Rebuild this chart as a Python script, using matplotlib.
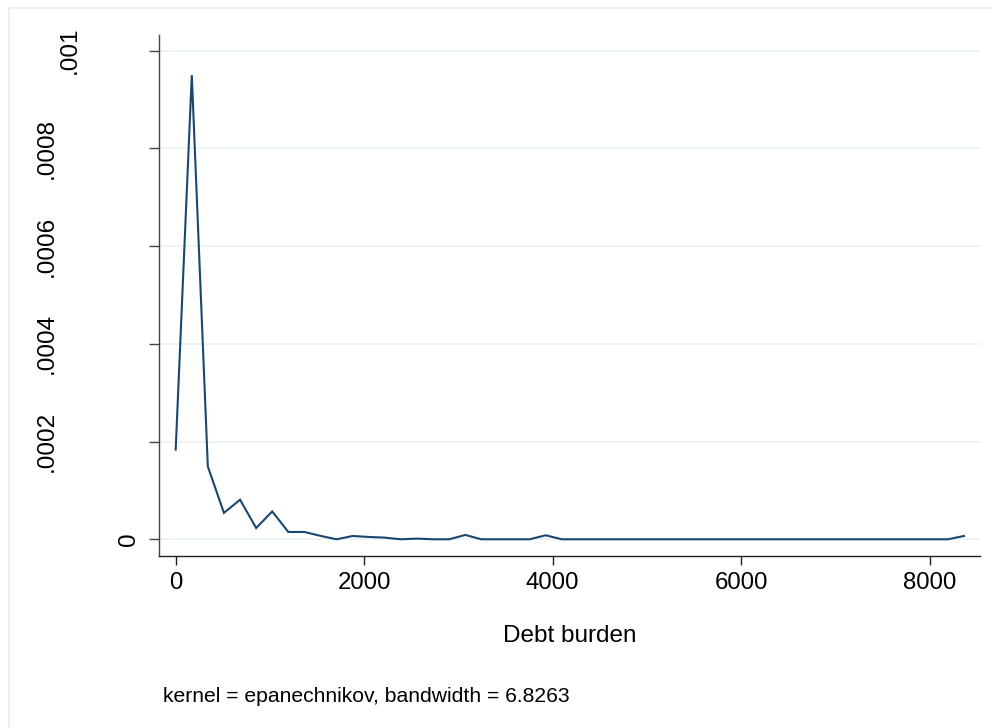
import matplotlib
matplotlib.use("Agg")
import matplotlib.pyplot as plt
from matplotlib.transforms import blended_transform_factory
from matplotlib.lines import Line2D

# ---- data ----
debt_burden = [0, 171, 341, 512, 683, 854, 1024, 1195, 1366, 1536,
               1707, 1878, 2048, 2219, 2390, 2561, 2731, 2902, 3073, 3243,
               3414, 3585, 3755, 3926, 4097, 4268, 4438, 4609, 4780, 4950,
               5121, 5292, 5462, 5633, 5804, 5975, 6145, 6316, 6487, 6657,
               6828, 6999, 7169, 7340, 7511, 7682, 7852, 8023, 8194, 8364]
density = [1.835e-4, 9.50e-4, 1.49e-4, 5.4e-5, 8.1e-5, 2.3e-5, 5.7e-5, 1.5e-5, 1.5e-5, 7.0e-6,
           0.0, 6.8e-6, 4.8e-6, 3.4e-6, 0.0, 1.4e-6, 0.0, 0.0, 8.9e-6, 0.0,
           0.0, 0.0, 0.0, 8.2e-6, 0.0, 0.0, 0.0, 0.0, 0.0, 0.0,
           0.0, 0.0, 0.0, 0.0, 0.0, 0.0, 0.0, 0.0, 0.0, 0.0,
           0.0, 0.0, 0.0, 0.0, 0.0, 0.0, 0.0, 0.0, 0.0, 6.8e-6]
x_ticks = [0, 2000, 4000, 6000, 8000]
x_tick_labels = ["0", "2000", "4000", "6000", "8000"]
y_ticks = [0, 0.0002, 0.0004, 0.0006, 0.0008, 0.001]
y_tick_labels = ["0", ".0002", ".0004", ".0006", ".0008", ".001"]
x_title = "Debt burden"
note = "kernel = epanechnikov, bandwidth = 6.8263"

plt.rcParams['font.family'] = ['Liberation Sans', 'DejaVu Sans']

W, H = 992, 728
fig = plt.figure(figsize=(W / 100, H / 100), dpi=100)
fig.patch.set_facecolor('white')

L, R, T, B = 159, 980, 35, 556
ax = fig.add_axes([L / W, 1 - B / H, (R - L) / W, (B - T) / H])
ax.set_facecolor('white')

ax.set_xlim(-177, 8534)
ax.set_ylim(-3.42e-5, 1.0321e-3)

for yv in y_ticks:
    ax.axhline(yv, color='#eaf2f3', lw=1.3, zorder=1)

ax.plot(debt_burden, density, color='#1a476f', lw=1.5, zorder=3, solid_joinstyle='miter')

for s in ['top', 'right']:
    ax.spines[s].set_visible(False)
ax.spines['left'].set_color('#444444')
ax.spines['bottom'].set_color('#222222')
ax.spines['left'].set_linewidth(1.0)
ax.spines['bottom'].set_linewidth(1.0)

ax.set_xticks(x_ticks)
ax.set_xticklabels(x_tick_labels, fontsize=17.3)
ax.tick_params(axis='x', length=6.8, width=1.0, color='#222222', pad=5, direction='out')
ax.set_yticks(y_ticks)
ax.set_yticklabels([])
ax.tick_params(axis='y', length=7.2, width=1.0, color='#444444', direction='out')

# y tick labels, rotated, placed like the reference (Stata-style)
trans = blended_transform_factory(fig.transFigure, ax.transData)
label_right_px = {"0": 140, ".0002": 58, ".0004": 58, ".0006": 58, ".0008": 58, ".001": 81}
for yv, lab in zip(y_ticks, y_tick_labels):
    ax.text(label_right_px[lab] / W, yv, lab, transform=trans, rotation=90,
            ha='right', va='center', fontsize=17.5, color='black', clip_on=False)

fig.text((L + R) / 2 / W, 1 - 636 / H, x_title, ha='center', va='center', fontsize=17.5)
fig.text(163 / W, 1 - 702 / H, note, ha='left', va='baseline', fontsize=15.2)

# faint outer frame (top and left edges)
fig.add_artist(Line2D([9 / W, 1.0], [1 - 8 / H, 1 - 8 / H], transform=fig.transFigure,
                      color='#e6eef0', lw=1.2))
fig.add_artist(Line2D([9 / W, 9 / W], [1 - 8 / H, 0.0], transform=fig.transFigure,
                      color='#e6eef0', lw=1.2))

fig.savefig('out.png', dpi=100, facecolor='white')
